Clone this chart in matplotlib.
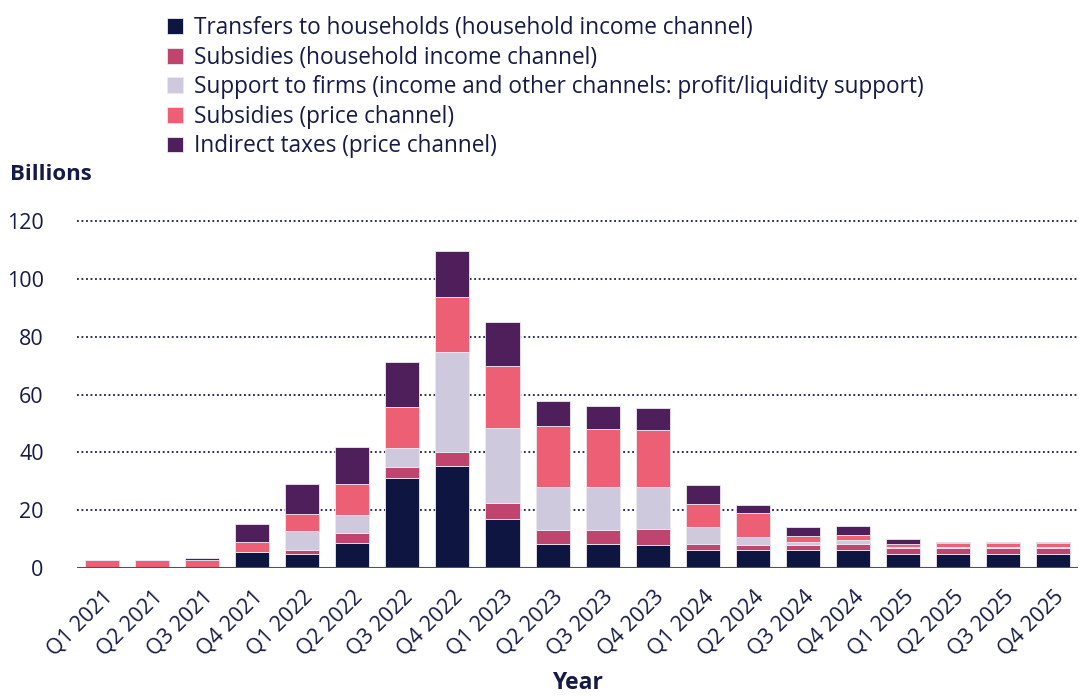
import numpy as np
import matplotlib.pyplot as plt

plt.rcParams['font.family'] = ['Open Sans', 'DejaVu Sans']

quarters = ['Q1 2021', 'Q2 2021', 'Q3 2021', 'Q4 2021',
            'Q1 2022', 'Q2 2022', 'Q3 2022', 'Q4 2022',
            'Q1 2023', 'Q2 2023', 'Q3 2023', 'Q4 2023',
            'Q1 2024', 'Q2 2024', 'Q3 2024', 'Q4 2024',
            'Q1 2025', 'Q2 2025', 'Q3 2025', 'Q4 2025']

# billions
transfers_hh = [0, 0, 0, 5.4, 4.9, 8.7, 31.2, 35.3, 17.1, 8.3, 8.4, 7.9,
                6.1, 6.1, 6.1, 6.1, 4.7, 4.7, 4.7, 4.7]
subsidies_hh = [0, 0, 0, 0, 1.4, 3.3, 3.8, 4.7, 5.5, 4.8, 4.7, 5.5,
                2.3, 2.0, 2.0, 2.3, 2.1, 2.1, 2.1, 2.1]
support_firms = [0, 0, 0, 0, 6.4, 6.4, 6.6, 34.9, 26.0, 15.1, 14.9, 14.6,
                 5.7, 2.6, 0.9, 1.2, 0.5, 0.5, 0.5, 0.5]
subsidies_price = [2.7, 2.7, 2.9, 3.6, 6.1, 10.7, 14.2, 19.0, 21.4, 20.9, 20.0, 19.6,
                   8.1, 8.3, 2.1, 1.9, 1.1, 1.2, 1.2, 1.2]
indirect_taxes = [0, 0, 0.5, 6.1, 10.1, 12.8, 15.6, 15.7, 15.2, 8.6, 8.1, 7.8,
                  6.5, 2.9, 3.0, 2.9, 1.5, 0.6, 0.6, 0.6]

series = [
    ('Transfers to households (household income channel)', transfers_hh, '#0e1541'),
    ('Subsidies (household income channel)', subsidies_hh, '#bf456f'),
    ('Support to firms (income and other channels: profit/liquidity support)', support_firms, '#cfc9de'),
    ('Subsidies (price channel)', subsidies_price, '#ed5f74'),
    ('Indirect taxes (price channel)', indirect_taxes, '#4f1f5c'),
]

navy = '#161b45'

fig = plt.figure(figsize=(10.8, 6.98), dpi=100)
ax = fig.add_axes([0.0713, 0.1862, 0.927, 0.497])

x = np.arange(len(quarters))
bottom = np.zeros(len(quarters))
for name, vals, col in series:
    vals = np.array(vals)
    ax.bar(x, vals, 0.68, bottom=bottom, color=col, label=name,
           edgecolor='#ece8f2', linewidth=0.6, zorder=3)
    bottom += vals

ax.set_xlim(-0.5, 19.5)
ax.set_ylim(0, 120)
ax.set_yticks([0, 20, 40, 60, 80, 100, 120])
for v in [20, 40, 60, 80, 100, 120]:
    ax.axhline(v, color=navy, linestyle=(0, (1, 1.5)), linewidth=1.3, zorder=1, clip_on=False)
ax.axhline(0, color='#4a4f75', linewidth=1.5, zorder=4)

for s in ax.spines.values():
    s.set_visible(False)
ax.tick_params(length=0, colors=navy, labelsize=15.5)
ax.tick_params(axis='y', pad=24)
ax.tick_params(axis='x', pad=13)
ax.set_xticks(x)
ax.set_xticklabels(quarters, rotation=45, ha='right', rotation_mode='anchor')

ax.set_xlabel('Year', fontsize=16.5, fontweight='bold', color=navy, labelpad=8)
fig.text(0.009, 0.75, 'Billions', fontsize=16, fontweight='bold', color=navy, va='center')

handles, labels = ax.get_legend_handles_labels()
fig.legend(handles, labels, loc='upper left', bbox_to_anchor=(0.14, 1.0),
           frameon=False, fontsize=16.3, labelcolor=navy,
           handlelength=0.7, handleheight=0.7, handletextpad=0.5,
           labelspacing=0.25, borderaxespad=0.3)

fig.savefig('out.png', dpi=100)
